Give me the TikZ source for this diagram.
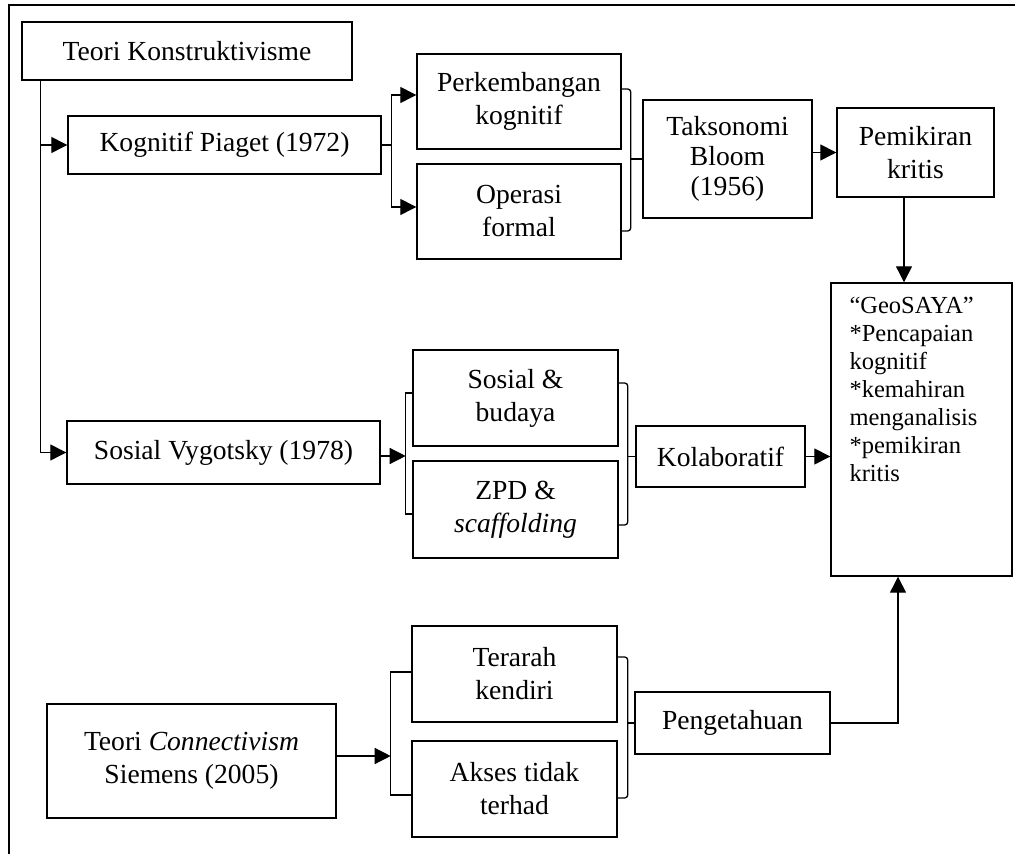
\documentclass[tikz,border=0pt]{standalone}
\usepackage{fontspec}
\setmainfont{Liberation Serif}
\usetikzlibrary{arrows.meta}

\begin{document}
\begin{tikzpicture}[x=0.5pt,y=-0.5pt,line width=0.65pt,
    box/.style={draw, line width=0.7pt, inner sep=2pt, align=center,
      font=\fontsize{13.8}{16.5}\selectfont},
    geobox/.style={draw, line width=0.7pt, inner sep=0pt},
    arr/.style={-{Triangle[length=8pt,width=8pt]}},
    brk/.style={rounded corners=1.5pt}]
  \useasboundingbox (0,0) rectangle (1015,854);
  \draw[line width=1.2pt] (9,854) -- (9,5) -- (1015,5);

  % teori konstruktivisme
  \node[box, minimum width=165pt, minimum height=29pt] (tk) at (187,51) {Teori Konstruktivisme};
  \coordinate (trunk) at ([xshift=9.5pt]tk.south west);

  % Piaget
  \node[box, minimum width=156.5pt, minimum height=29pt] (kp) at (224.5,145) {Kognitif Piaget (1972)};
  \node[box, minimum width=102pt, minimum height=47.5pt] (pk) at (519,101.5) {Perkembangan\\kognitif};
  \node[box, minimum width=102pt, minimum height=47.5pt] (of) at (519,211.5) {Operasi\\formal};
  \node[box, minimum width=84.5pt, minimum height=59pt,
    font=\fontsize{13.8}{15}\selectfont] (tb) at (727.5,159) {Taksonomi\\Bloom\\(1956)};
  \node[box, minimum width=78.5pt, minimum height=44.5pt] (pm) at (915.5,152.5) {Pemikiran\\kritis};

  % GeoSAYA
  \node[geobox, minimum width=90.5pt, minimum height=146.5pt] (gs) at (921.5,429.5)
    {\parbox[c][146.5pt][t]{72pt}{\fontsize{12.25}{14}\selectfont\raggedright
      \rule{0pt}{15.5pt}“GeoSAYA”\par
      {*}Pencapaian\par
      kognitif\par
      {*}kemahiran\par
      menganalisis\par
      {*}pemikiran\par
      kritis}};

  % Vygotsky
  \node[box, minimum width=156.5pt, minimum height=31.5pt] (sv) at (223.5,452.5) {Sosial Vygotsky (1978)};
  \node[box, minimum width=102.5pt, minimum height=48pt] (sb) at (515.5,398) {Sosial \&\\budaya};
  \node[box, minimum width=102.5pt, minimum height=48.5pt] (zp) at (515.5,509.5) {ZPD \&\\\textit{scaffolding}};
  \node[box, minimum width=84.5pt, minimum height=30.5pt] (kl) at (720.5,456.5) {Kolaboratif};

  % Siemens
  \node[box, minimum width=144.5pt, minimum height=57pt] (tc) at (191.5,761) {Teori \textit{Connectivism}\\Siemens (2005)};
  \node[box, minimum width=102.5pt, minimum height=48pt] (tr) at (514.5,674) {Terarah\\kendiri};
  \node[box, minimum width=102.5pt, minimum height=48pt] (ak) at (514.5,789) {Akses tidak\\terhad};
  \node[box, minimum width=97.5pt, minimum height=31pt] (pg) at (732.5,723) {Pengetahuan};

  % connectors
  \draw[arr] (trunk) |- (sv.west);
  \draw[arr] (trunk |- kp.west) -- (kp.west);

  \draw (kp.east) -- ++(10,0) coordinate (kb);
  \draw[arr] (kb) |- ([yshift=3.25pt]pk.west);
  \draw[arr] (kb) |- ([yshift=2.25pt]of.west);
  \draw[brk] ([yshift=6.25pt]pk.east) -- ++(9,0) coordinate (pb) |- ([yshift=-9.75pt]of.east);
  \draw (pb |- tb.west) -- (tb.west);
  \draw[arr] (tb.east |- pm.west) -- (pm.west);
  \coordinate (pd) at ([xshift=-5.75pt]pm.south);
  \draw[arr] (pd) -- (pd |- gs.north);

  \draw[arr] ([yshift=-1.75pt]sv.east) -- ++(25,0) coordinate (sbk);
  \draw ([yshift=2.5pt]sb.west) -| (sbk) |- ([yshift=-2.25pt]zp.west);
  \draw[brk] ([yshift=7.5pt]sb.east) -- ++(9,0) coordinate (sbb) |- ([yshift=-7.75pt]zp.east);
  \draw (sbb |- kl.west) -- (kl.west);
  \draw[arr] (kl.east) -- (kl.east -| gs.west);

  \draw[arr] ([yshift=2.5pt]tc.east) -- ++(54,0) coordinate (tbk);
  \draw ([yshift=1pt]tr.west) -| (tbk) |- ([yshift=-3pt]ak.west);
  \draw[brk] ([yshift=8.5pt]tr.east) -- ++(10,0) coordinate (tab) |- ([yshift=-4.5pt]ak.east);
  \draw (tab |- pg.west) -- (pg.west);
  \draw[arr] (pg.east) -| ([xshift=-11.75pt]gs.south);
\end{tikzpicture}
\end{document}
